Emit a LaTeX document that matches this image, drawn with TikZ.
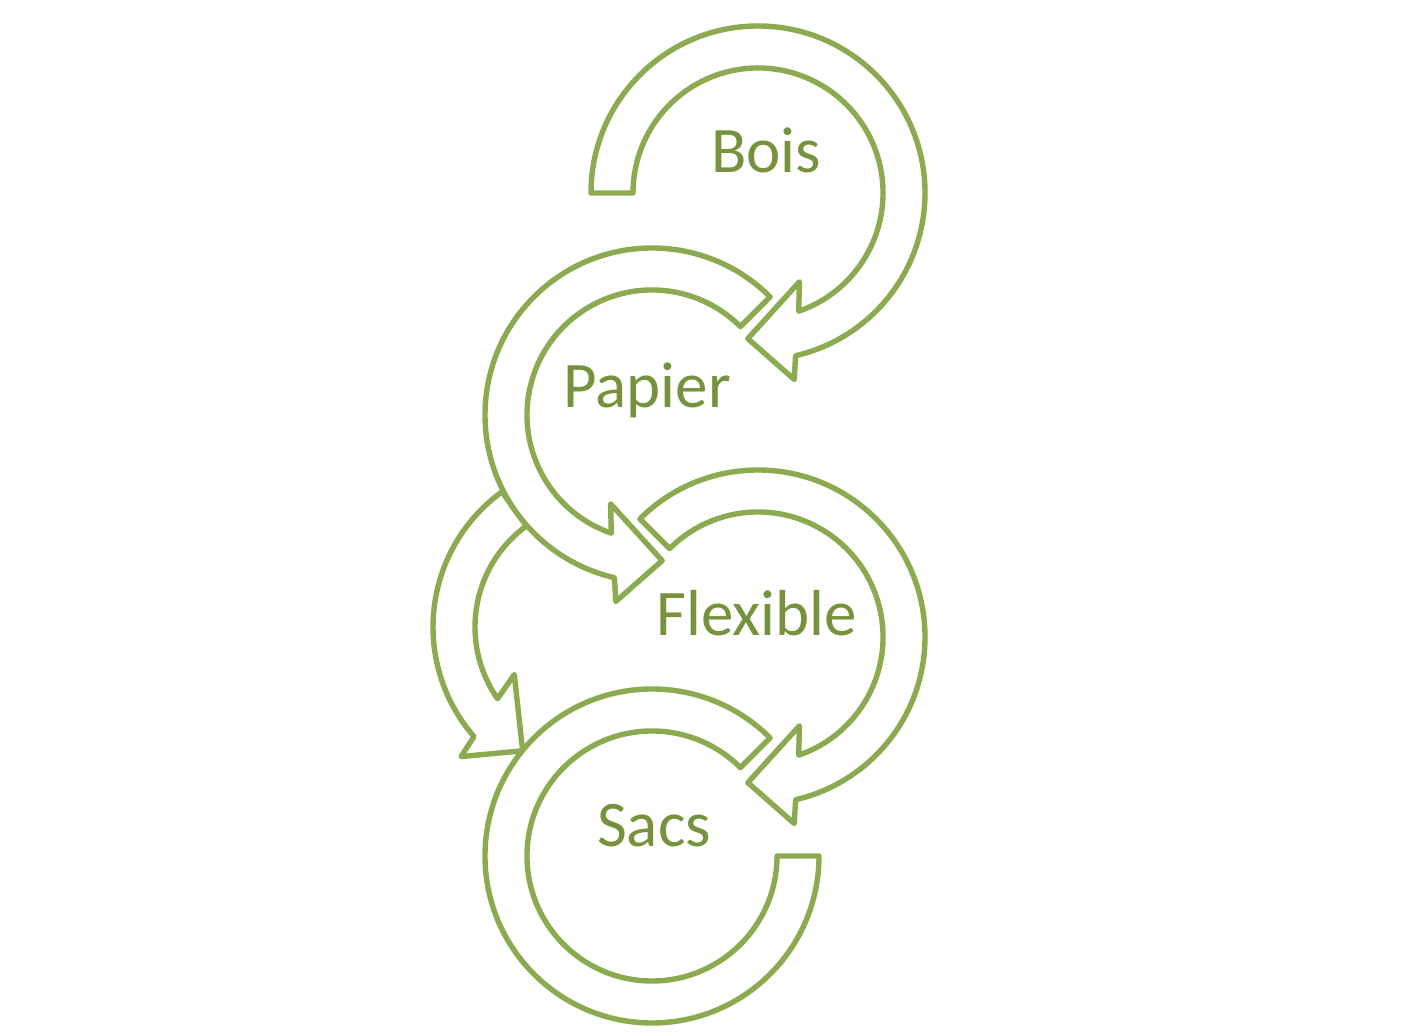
\documentclass[tikz,border=0pt]{standalone}
\usepackage{fontspec}
\setmainfont{Carlito}
\definecolor{bandgreen}{RGB}{140,170,80}
\definecolor{textgreen}{RGB}{118,146,60}
\begin{document}
\begin{tikzpicture}[x = 0.5pt, y = 0.5pt,
        band/.style = {draw = bandgreen, fill = white, line width = 2.7pt, line join = round},
        word/.style = {text = textgreen, font = \fontsize{32.5}{38}\selectfont, anchor = base}]
        \useasboundingbox (0, 0) rectangle (1411, 1036);
        % left arrow, under Papier and Sacs
        \begin{scope}[shift = {(600, 409)}]
            \draw [band] (126:167) arc [start angle = 126, end angle = 221, radius = 167] -- (223:190) -- (238:146) -- (209:98) -- (215:125) arc [start angle = 215, end angle = 126, radius = 125] -- cycle;
        \end{scope}
        % Bois
        \begin{scope}[shift = {(758, 843)}]
            \draw [band] (180:167) arc [start angle = 180, end angle = -77, radius = 167] -- (-79:190) -- (-94:146) -- (-65:98) -- (-71:125) arc [start angle = -71, end angle = 180, radius = 125] -- cycle;
        \end{scope}
        % Papier
        \begin{scope}[shift = {(652, 621)}]
            \draw [band] (45:167) arc [start angle = 45, end angle = 257, radius = 167] -- (259:190) -- (274:146) -- (245:98) -- (251:125) arc [start angle = 251, end angle = 45, radius = 125] -- cycle;
        \end{scope}
        % Flexible
        \begin{scope}[shift = {(758, 399)}]
            \draw [band] (135:167) arc [start angle = 135, end angle = -77, radius = 167] -- (-79:190) -- (-94:146) -- (-65:98) -- (-71:125) arc [start angle = -71, end angle = 135, radius = 125] -- cycle;
        \end{scope}
        % Sacs
        \begin{scope}[shift = {(652, 180)}]
            \draw [band] (45:167) arc [start angle = 45, end angle = 360, radius = 167] -- (0:125) arc [start angle = 360, end angle = 45, radius = 125] -- cycle;
        \end{scope}
        \node [word] (bois) at (766, 863) {Bois};
        \node [word] (papier) at (647, 628) {Papier};
        \node [word] (flexible) at (757, 400) {Flexible};
        \node [word] (sacs) at (654, 189) {Sacs};
    \end{tikzpicture}
\end{document}
